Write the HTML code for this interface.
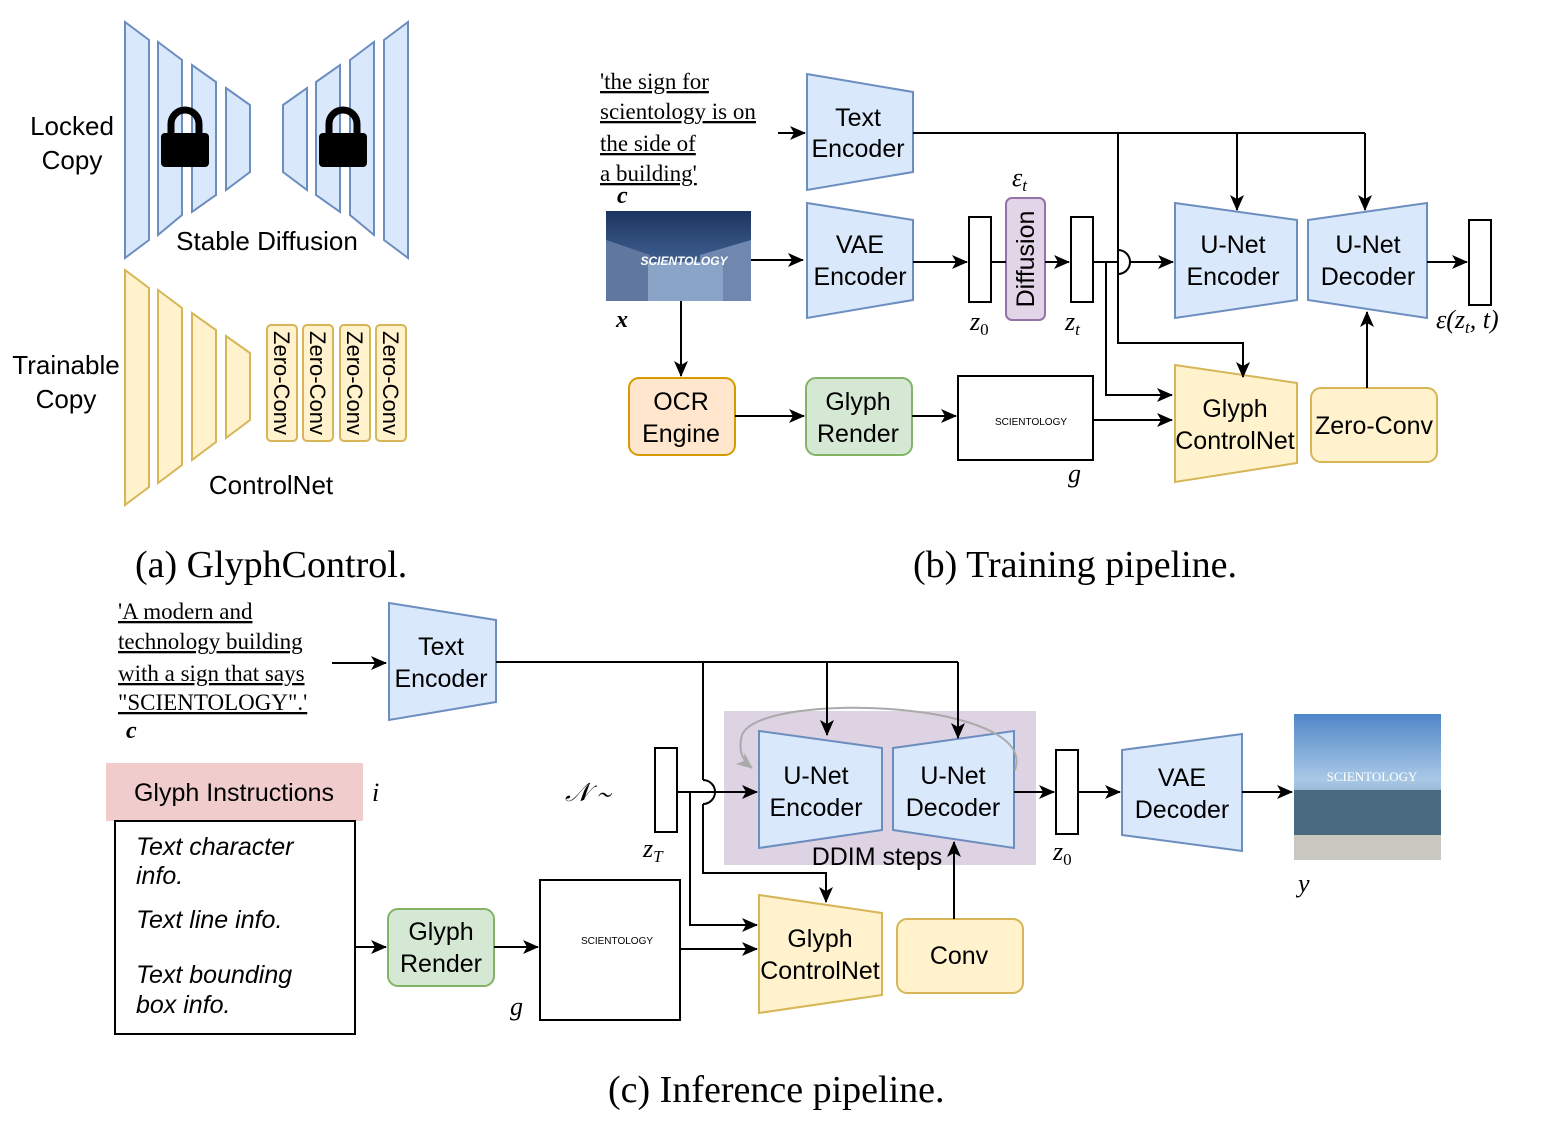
<!DOCTYPE html>
<html><head><meta charset="utf-8"><style>
html,body{margin:0;padding:0;background:#fff;}
svg{display:block;}
.s{font-family:"Liberation Sans",sans-serif;}
.r{font-family:"Liberation Serif",serif;}
</style></head><body>
<svg width="1547" height="1133" viewBox="0 0 1547 1133" xmlns="http://www.w3.org/2000/svg">
<defs>
<marker id="a" markerWidth="16" markerHeight="14" refX="15" refY="7" orient="auto" markerUnits="userSpaceOnUse"><path d="M0,0 L16,7 L0,14 L4,7 z" fill="#000"/></marker>
<marker id="g" markerWidth="16" markerHeight="14" refX="15" refY="7" orient="auto" markerUnits="userSpaceOnUse"><path d="M0,0 L16,7 L0,14 L4,7 z" fill="#aaa"/></marker>
<linearGradient id="sky" x1="0" y1="0" x2="0" y2="1"><stop offset="0" stop-color="#1d3560"/><stop offset="0.5" stop-color="#3a5a8a"/><stop offset="1" stop-color="#8aa0c0"/></linearGradient>
<linearGradient id="sky2" x1="0" y1="0" x2="0" y2="1"><stop offset="0" stop-color="#4f86c8"/><stop offset="0.45" stop-color="#a9c8e6"/><stop offset="0.75" stop-color="#6c8fa8"/><stop offset="1" stop-color="#b8b8b0"/></linearGradient>
</defs>
<g fill="#dae8fc" stroke="#6c8ebf" stroke-width="2">
<polygon points="125,22 149,40 149,240 125,258"/>
<polygon points="158,42 182,60 182,215 158,235"/>
<polygon points="192,65 216,82 216,195 192,212"/>
<polygon points="226,88 250,105 250,172 226,190"/>
<polygon points="283,105 307,88 307,190 283,172"/>
<polygon points="316,82 340,65 340,212 316,195"/>
<polygon points="350,60 374,42 374,235 350,215"/>
<polygon points="384,40 408,22 408,258 384,240"/>
</g>
<g fill="#000">
<rect x="161" y="133" width="48" height="34" rx="4"/>
<path d="M171,134 v-10 a14,14 0 0 1 28,0 v10" fill="none" stroke="#000" stroke-width="7"/>
<rect x="319" y="133" width="48" height="34" rx="4"/>
<path d="M329,134 v-10 a14,14 0 0 1 28,0 v10" fill="none" stroke="#000" stroke-width="7"/>
</g>
<g class="s" font-size="26" text-anchor="middle" fill="#000">
<text x="72" y="135">Locked</text><text x="72" y="169">Copy</text>
<text x="267" y="250">Stable Diffusion</text>
<text x="66" y="374">Trainable</text><text x="66" y="408">Copy</text>
<text x="271" y="494">ControlNet</text>
</g>
<g fill="#fff2cc" stroke="#d6b656" stroke-width="2">
<polygon points="125,270 149,288 149,487 125,505"/>
<polygon points="158,290 182,308 182,465 158,483"/>
<polygon points="192,313 216,330 216,442 192,460"/>
<polygon points="226,336 250,353 250,420 226,438"/>
<rect x="267" y="325" width="30" height="116" rx="4"/>
<rect x="303" y="325" width="30" height="116" rx="4"/>
<rect x="340" y="325" width="30" height="116" rx="4"/>
<rect x="376" y="325" width="30" height="116" rx="4"/>
</g>
<g class="s" font-size="22" fill="#000" text-anchor="middle">
<text transform="translate(274,383) rotate(90)">Zero-Conv</text>
<text transform="translate(310,383) rotate(90)">Zero-Conv</text>
<text transform="translate(347,383) rotate(90)">Zero-Conv</text>
<text transform="translate(383,383) rotate(90)">Zero-Conv</text>
</g>
<g class="r" font-size="38" fill="#000">
<text x="135" y="577">(a) GlyphControl.</text>
<text x="913" y="577">(b) Training pipeline.</text>
<text x="608" y="1102">(c) Inference pipeline.</text>
</g>

<!-- (b) -->
<g class="r" font-size="23" fill="#000" text-decoration="underline">
<text x="600" y="89">'the sign for</text>
<text x="600" y="119">scientology is on</text>
<text x="600" y="151">the side of</text>
<text x="600" y="181">a building'</text>
</g>
<text x="617" y="203" class="r" font-size="24" font-style="italic" font-weight="bold">c</text>
<text x="616" y="327" class="r" font-size="24" font-style="italic" font-weight="bold">x</text>
<g fill="#dae8fc" stroke="#6c8ebf" stroke-width="2">
<polygon points="807,74 913,92 913,172 807,190"/>
<polygon points="807,203 913,220 913,300 807,318"/>
<polygon points="1175,203 1297,220 1297,300 1175,318"/>
<polygon points="1308,220 1427,203 1427,318 1308,300"/>
</g>
<rect x="606" y="211" width="145" height="90" fill="url(#sky)"/>
<polygon points="606,240 650,255 650,301 606,301" fill="#6078a0"/>
<polygon points="700,255 751,240 751,301 700,301" fill="#7088b0"/>
<rect x="648" y="262" width="75" height="39" fill="#8aa4c8"/>
<text x="684" y="265" text-anchor="middle" class="s" font-size="12" font-weight="bold" font-style="italic" fill="#fff">SCIENTOLOGY</text>
<rect x="969" y="217" width="22" height="85" fill="#fff" stroke="#000" stroke-width="2"/>
<rect x="1071" y="217" width="22" height="85" fill="#fff" stroke="#000" stroke-width="2"/>
<rect x="1469" y="220" width="22" height="85" fill="#fff" stroke="#000" stroke-width="2"/>
<rect x="1006" y="198" width="39" height="122" rx="6" fill="#e1d5e7" stroke="#9673a6" stroke-width="2"/>
<text transform="translate(1034,259) rotate(-90)" text-anchor="middle" class="s" font-size="25">Diffusion</text>
<rect x="629" y="378" width="106" height="77" rx="10" fill="#ffe6cc" stroke="#d79b00" stroke-width="2"/>
<rect x="806" y="378" width="106" height="77" rx="10" fill="#d5e8d4" stroke="#82b366" stroke-width="2"/>
<rect x="958" y="376" width="135" height="84" fill="#fff" stroke="#000" stroke-width="2"/>
<text x="1031" y="425" text-anchor="middle" class="s" font-size="10">SCIENTOLOGY</text>
<polygon points="1175,365 1297,383 1297,463 1175,482" fill="#fff2cc" stroke="#d6b656" stroke-width="2"/>
<rect x="1311" y="388" width="126" height="74" rx="10" fill="#fff2cc" stroke="#d6b656" stroke-width="2"/>
<g class="s" font-size="25" text-anchor="middle" fill="#000">
<text x="858" y="126">Text</text><text x="858" y="157">Encoder</text>
<text x="860" y="253">VAE</text><text x="860" y="285">Encoder</text>
<text x="1233" y="253">U-Net</text><text x="1233" y="285">Encoder</text>
<text x="1368" y="253">U-Net</text><text x="1368" y="285">Decoder</text>
<text x="681" y="410">OCR</text><text x="681" y="442">Engine</text>
<text x="858" y="410">Glyph</text><text x="858" y="442">Render</text>
<text x="1235" y="417">Glyph</text><text x="1235" y="449">ControlNet</text>
<text x="1374" y="434">Zero-Conv</text>
</g>
<g class="r" font-size="26" font-style="italic" fill="#000">
<text x="970" y="330">z<tspan font-size="17" dy="5" font-style="normal">0</tspan></text>
<text x="1065" y="330">z<tspan font-size="17" dy="5">t</tspan></text>
<text x="1012" y="186">ε<tspan font-size="17" dy="5">t</tspan></text>
<text x="1068" y="482">g</text>
<text x="1436" y="328">ε(z<tspan font-size="17" dy="5">t</tspan><tspan dy="-5">, t)</tspan></text>
</g>
<g fill="none" stroke="#000" stroke-width="2">
<line x1="778" y1="133" x2="805" y2="133" marker-end="url(#a)"/>
<line x1="913" y1="133" x2="1365" y2="133"/>
<line x1="1237" y1="133" x2="1237" y2="210" marker-end="url(#a)"/>
<line x1="1365" y1="133" x2="1365" y2="210" marker-end="url(#a)"/>
<polyline points="1118,133 1118,343 1243,343 1243,377" marker-end="url(#a)"/>
<line x1="751" y1="260" x2="803" y2="260" marker-end="url(#a)"/>
<line x1="913" y1="262" x2="967" y2="262" marker-end="url(#a)"/>
<line x1="991" y1="262" x2="1006" y2="262"/>
<line x1="1045" y1="262" x2="1069" y2="262" marker-end="url(#a)"/>
<path d="M1093,262 H1118 V250 A12,12 0 0 1 1118,274 V262 M1118,262"/>
<line x1="1130" y1="262" x2="1173" y2="262" marker-end="url(#a)"/>
<polyline points="1106,262 1106,395 1172,395" marker-end="url(#a)"/>
<line x1="1427" y1="262" x2="1467" y2="262" marker-end="url(#a)"/>
<line x1="681" y1="301" x2="681" y2="376" marker-end="url(#a)"/>
<line x1="735" y1="416" x2="804" y2="416" marker-end="url(#a)"/>
<line x1="912" y1="416" x2="956" y2="416" marker-end="url(#a)"/>
<line x1="1093" y1="420" x2="1172" y2="420" marker-end="url(#a)"/>
<line x1="1367" y1="388" x2="1367" y2="312" marker-end="url(#a)"/>
</g>

<!-- (c) -->
<g class="r" font-size="23" fill="#000" text-decoration="underline">
<text x="118" y="619">'A modern and</text>
<text x="118" y="649">technology  building</text>
<text x="118" y="681">with a sign that says</text>
<text x="118" y="710">"SCIENTOLOGY".'</text>
</g>
<text x="126" y="738" class="r" font-size="24" font-style="italic" font-weight="bold">c</text>
<polygon points="389,603 496,620 496,702 389,720" fill="#dae8fc" stroke="#6c8ebf" stroke-width="2"/>
<rect x="724" y="711" width="312" height="154" fill="#ddd3e3"/>
<polygon points="759,731 882,748 882,830 759,848" fill="#dae8fc" stroke="#6c8ebf" stroke-width="2"/>
<polygon points="893,748 1014,731 1014,848 893,830" fill="#dae8fc" stroke="#6c8ebf" stroke-width="2"/>
<path d="M1015,770 C1040,700 760,690 742,735 C738,750 742,760 752,768" fill="none" stroke="#aaa" stroke-width="2" marker-end="url(#g)"/>
<rect x="655" y="748" width="22" height="84" fill="#fff" stroke="#000" stroke-width="2"/>
<rect x="1056" y="750" width="22" height="84" fill="#fff" stroke="#000" stroke-width="2"/>
<polygon points="1122,750 1242,734 1242,851 1122,835" fill="#dae8fc" stroke="#6c8ebf" stroke-width="2"/>
<rect x="1294" y="714" width="147" height="146" fill="url(#sky2)"/>
<rect x="1294" y="790" width="147" height="45" fill="#4a6a80"/>
<rect x="1294" y="835" width="147" height="25" fill="#c8c8c0"/>
<text x="1372" y="781" text-anchor="middle" class="r" font-size="13" fill="#fff">SCIENTOLOGY</text>
<rect x="106" y="763" width="257" height="58" fill="#f0cccc"/>
<rect x="115" y="821" width="240" height="213" fill="#fff" stroke="#000" stroke-width="2"/>
<rect x="388" y="909" width="106" height="77" rx="10" fill="#d5e8d4" stroke="#82b366" stroke-width="2"/>
<rect x="540" y="880" width="140" height="140" fill="#fff" stroke="#000" stroke-width="2"/>
<text x="617" y="944" text-anchor="middle" class="s" font-size="10">SCIENTOLOGY</text>
<polygon points="759,895 882,913 882,995 759,1013" fill="#fff2cc" stroke="#d6b656" stroke-width="2"/>
<rect x="897" y="919" width="126" height="74" rx="10" fill="#fff2cc" stroke="#d6b656" stroke-width="2"/>
<g class="s" font-size="25" text-anchor="middle" fill="#000">
<text x="441" y="655">Text</text><text x="441" y="687">Encoder</text>
<text x="816" y="784">U-Net</text><text x="816" y="816">Encoder</text>
<text x="953" y="784">U-Net</text><text x="953" y="816">Decoder</text>
<text x="877" y="865">DDIM steps</text>
<text x="1182" y="786">VAE</text><text x="1182" y="818">Decoder</text>
<text x="234" y="801">Glyph Instructions</text>
<text x="441" y="940">Glyph</text><text x="441" y="972">Render</text>
<text x="820" y="947">Glyph</text><text x="820" y="979">ControlNet</text>
<text x="959" y="964">Conv</text>
</g>
<g class="s" font-size="25" font-style="italic" fill="#000">
<text x="136" y="855">Text character</text><text x="136" y="884">info.</text>
<text x="136" y="928">Text line info.</text>
<text x="136" y="983">Text bounding</text><text x="136" y="1013">box info.</text>
</g>
<g class="r" font-size="26" font-style="italic" fill="#000">
<text x="372" y="801">i</text>
<text x="565" y="801">𝒩 ∼</text>
<text x="643" y="857">z<tspan font-size="17" dy="5">T</tspan></text>
<text x="1053" y="860">z<tspan font-size="17" dy="5" font-style="normal">0</tspan></text>
<text x="1298" y="892">y</text>
<text x="510" y="1015">g</text>
</g>
<g fill="none" stroke="#000" stroke-width="2">
<line x1="332" y1="663" x2="386" y2="663" marker-end="url(#a)"/>
<line x1="496" y1="662" x2="958" y2="662"/>
<line x1="827" y1="662" x2="827" y2="735" marker-end="url(#a)"/>
<line x1="958" y1="662" x2="958" y2="738" marker-end="url(#a)"/>
<polyline points="703,662 703,780"/>
<path d="M703,780 A12,12 0 0 1 703,804"/>
<polyline points="703,804 703,873 826,873 826,902" marker-end="url(#a)"/>
<line x1="677" y1="792" x2="757" y2="792" marker-end="url(#a)"/>
<polyline points="690,792 690,925 757,925" marker-end="url(#a)"/>
<line x1="1014" y1="792" x2="1054" y2="792" marker-end="url(#a)"/>
<line x1="1078" y1="792" x2="1120" y2="792" marker-end="url(#a)"/>
<line x1="1242" y1="792" x2="1292" y2="792" marker-end="url(#a)"/>
<line x1="355" y1="947" x2="386" y2="947" marker-end="url(#a)"/>
<line x1="494" y1="947" x2="538" y2="947" marker-end="url(#a)"/>
<line x1="680" y1="949" x2="757" y2="949" marker-end="url(#a)"/>
<line x1="954" y1="919" x2="954" y2="842" marker-end="url(#a)"/>
</g>
</svg>
</body></html>
